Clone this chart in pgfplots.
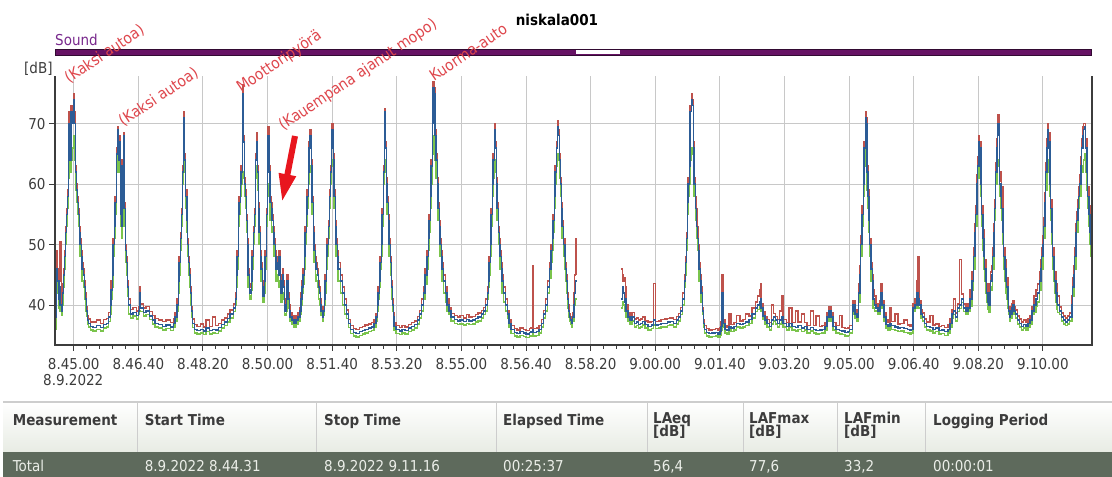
\documentclass[border=0pt]{standalone}
\usepackage{fontspec}
\setmainfont{DejaVu Sans Condensed}
\usepackage{pgfplots}
\usepackage{pgfplotstable}
\pgfplotsset{compat=1.18}
\usetikzlibrary{arrows.meta}
\definecolor{cred}{RGB}{190,82,76}
\definecolor{cblue}{RGB}{44,92,150}
\definecolor{cgreen}{RGB}{122,196,76}
\definecolor{axcol}{RGB}{60,60,60}
\definecolor{gridc}{RGB}{200,200,200}
\definecolor{barc}{RGB}{102,18,100}
\definecolor{soundc}{RGB}{120,40,140}
\definecolor{annc}{RGB}{222,70,76}
\definecolor{arrc}{RGB}{232,22,30}
\definecolor{rowc}{RGB}{94,106,92}
\definecolor{hdrbot}{RGB}{232,236,228}
\definecolor{hdrtxt}{RGB}{60,60,60}
\definecolor{sepc}{RGB}{205,205,205}

\pgfplotstableread{
t max eq min
-29 40 38 36
-27 49 46 44
-25 46 44 42
-23 42.5 41 39.5
-22 44 43 41
-21 50.5 40 39
-19 40 39 38.3
-17 43.5 42 40
-16 46 45 43
-14 49 48 46
-13 53 52 50
-11 56 55 53
-10 59 58 56
-8 66 64 61
-7 72 70 64
-5 66 64 62
-4 73 72 64
-2 72 70 66
0 75 74 68
1 72 70 64
3 63 62 59
4 60 59 57
6 58 57 55
7 56 55 53
9 53 52 50
10 51 50 48
12 49 48 46
13 47 46 44
15 46 45 43
17 44 43 41
18 42 41 39
20 39.8 39 38.2
21 38.2 37.5 36.8
23 37.7 37 36.4
26 37.2 36.5 35.9
30 37.2 36.3 35.7
35 37.5 36.6 36
41 37 36.3 35.7
46 37.6 36.8 36.2
51 37.8 37 36.4
54 38.8 38 37.3
57 41 40 38.5
58 44 42.5 41
60 46 45 43
61 51 50 48
63 54 53 51
64 58 57 55
66 66 65 62
68 69.5 69 65
69 65 64 62
71 68 67 64
72 56 55 53
74 54 53 51
75 64 63 60
77 68.5 68 63
78 57 56 53
80 50 49 47
82 48 47 45
83 44 43 41.5
85 41 40 38.5
88 39.3 38.5 37.9
92 39.6 38.8 38.2
97 39 38.3 37.7
100 39.7 39 38.4
102 43 42 39
103 40.2 39.5 38.9
108 39.5 38.8 38.2
112 39.8 39 38.4
117 38.9 38.2 37.6
122 38.3 37.5 36.9
126 37.8 37 36.4
131 37.5 36.8 36.2
137 37.3 36.5 35.9
143 37.5 36.7 36.1
150 37.1 36.4 35.8
154 37.8 37 36.4
157 38.8 38 37.3
160 41 40 39
162 45 44 42
163 48 47 45
165 52 51 49
167 56 55 53
168 63 62 60
170 72 71 66
171 65 64 62
173 59 58 56
175 55 54 52
176 51 50 48
178 48 47 45
179 46 45 43
181 43 42 40
182 39.8 39 38
184 37.7 37 36.3
187 36.8 36 35.4
191 36.5 35.8 35.2
196 36.9 36 35.4
201 36.4 35.7 35.1
205 37.5 36.2 35.6
210 36.5 35.8 35.2
215 38 36 35.4
219 36.6 35.9 35.3
224 37 36.3 35.7
229 37.5 36.8 36.2
233 37.9 37.2 36.6
238 38.5 37.8 37.2
242 39.2 38.5 37.9
247 40.2 39.5 38.9
250 42 41 40
252 46 45 43
253 49 48 46
255 56 55 53
256 58 57 55
258 61 60 58
259 63 62 60
261 76.5 75 62
263 68 67 61
264 61 60 58
266 59 58 56
267 55 54 52
269 51 50 48
270 46 45 43
272 43.5 42.5 41.5
273 43 42 41
275 45 44 42.5
276 49 48 46
278 53 52 50
280 56 55 53
281 65 64 61
283 68.5 67 63
284 63 62 59
286 57 56 54
287 53 52 50
289 49 48 46
290 47 46 44
292 44 43 41.5
293 42.5 41.5 40.5
295 45 44 42
296 49 48 46
298 56 55 53
300 63 62 58
301 69.5 68 60
303 63 62 57
304 58 57 54
306 57 56 53
307 55 54 52
309 53 52 50
310 51 50 48
312 49 48 46
313 47 46 44
315 48 47 45
317 46 45 43
318 49 48 44
320 45 44 42
321 43 42 40.5
323 46 45 42
324 44 43 41
326 41 40 38.5
327 39.7 39 38.3
329 42 41 39
330 45 44 41
332 42 41 39.5
334 40 39 38
335 38.7 38 37.4
338 38.2 37.5 36.9
341 37.7 37 36.4
344 38.2 37.5 36.9
347 38.7 38 37.4
350 39.6 39 38.4
352 42 41 40
353 44 43 42
355 46 45 43.5
357 49 48 46
358 53 52 50
360 56 55 53
361 59 58 56
363 63 62 60
364 67 66 62
366 69 68 63
368 64 63 60
369 58 57 55
371 53 52 50
372 50 49 47
374 48 47 45
375 47 46 44
377 46 45 43
379 44 43 41
380 43 42 40
382 41 40 39
383 39.7 39 38.3
385 38.7 38 37.3
386 39.7 39 38.3
388 42 41 40
389 45 44 42
391 49 48 46
392 51 50 48
394 54 53 51
396 59 58 56
397 63 62 60
399 67 66 63
400 70 69 64
402 65 64 61
403 59 58 56
405 54 53 51
406 51 50 48
408 49 48 46
409 47 46 44
413 45 44 42
416 43 42 40
419 41 40 38.5
422 39.2 38.5 37.8
425 37.6 37 36.3
428 36.6 36 35.3
433 36.1 35.5 34.9
437 36 35.3 34.7
442 36.3 35.6 35
447 36.5 35.8 35.2
451 36.7 36 35.4
456 36.9 36.2 35.6
461 37.1 36.4 35.8
465 37.6 37 36.4
468 38.6 38 37.4
470 41 40 39
471 43 42 41
473 45 44 43
474 48 47 46
476 51 50 48
477 56 55 53
479 63 62 60
481 72.5 72 64
482 67 66 62
484 61 60 58
485 58 57 55
487 55 54 52
488 51 50 48
490 48 47 45
492 44 43 41
493 41 40 39
495 38.7 38 37.3
496 37.1 36.5 35.8
499 36.6 36 35.3
504 36.3 35.7 35.1
508 36.6 36 35.4
513 36.4 35.8 35.2
518 36.8 36.2 35.6
523 37.1 36.5 35.9
527 37.4 36.8 36.2
532 38.1 37.5 36.9
535 39.1 38.5 37.9
538 41 40 39
541 43 42 41
544 46 45 43.5
547 49 48 46
549 52 51 49
550 55 54 52
552 59 58 56
553 64 63 60
555 71 70 65
556 77 76 68
558 76 75 67
559 69 68 64
561 65 64 61
563 61 60 58
564 57 56 54
566 54 53 51
567 51 50 48
569 49 48 46
570 47 46 44
572 45 44 42
575 43 42 40.5
578 41 40 39
581 39.6 39 38.4
584 38.6 38 37.4
589 38.3 37.6 37
594 38 37.4 36.8
598 38.3 37.5 36.9
603 37.9 37.3 36.7
608 38.4 37.6 37
612 38 37.4 36.8
617 38.1 37.5 36.9
622 38.4 37.8 37.2
626 38.7 38 37.4
631 39.1 38.5 37.9
634 39.6 39 38.4
637 41 40 39
640 43 42 41
642 45 44 43
643 48 47 45
645 51 50 48
646 56 55 53
648 61 60 58
649 65 64 61
651 70 69 64
652 67 66 62
654 61 60 58
655 57 56 54
657 53 52 50
659 51 50 48
660 49 48 46
662 47 46 44
663 45 44 42
665 43 42 40.5
668 41 40 39
671 39.1 38.5 37.9
674 37.6 37 36.4
677 36.6 36 35.3
682 36.1 35.5 34.9
686 35.9 35.3 34.7
691 36.2 35.6 35
696 36 35.4 34.8
700 35.8 35.2 34.6
705 36.1 35.5 34.9
708 36.2 35.6 35
710 46.5 36 35.4
711 36.1 35.5 34.9
716 36.2 35.6 35
720 36.6 36 35.4
724 37.6 37 36.4
727 39.1 38.5 37.9
730 41 40 39
733 44 43 42
736 47 46 44.5
739 50 49 47
741 52 51 49
742 55 54 52
744 59 58 56
745 63 62 60
747 67 66 63
749 70.5 69.5 65
750 69 68 64
752 65 64 61
753 61 60 58
755 57 56 54
756 54 53 51
758 51 50 48
760 49 48 46
761 47 46 44
763 45 44 42
764 42 41 39.5
766 40 39 38
767 38.6 38 37.4
769 38.1 37.5 36.9
770 37.6 37 36.4
772 38.8 38 37.4
774 42 40 38.5
775 45 42 40
777 51 44 41
778 45 44 41
}\dataA

\pgfplotstableread{
t max eq min
847 46 41 39.5
849 45 43 40.5
850 44 42 40
852 44.5 40.5 39
854 43 41 39
855 40 39 38
858 38.8 38 37.4
861 38.3 37.5 36.9
864 38.8 38 37.4
868 37.7 37 36.4
871 37.9 37.2 36.6
874 37.5 36.8 36.2
877 37.7 37 36.4
880 38 37.3 36.7
884 37.4 36.8 36.2
889 37.2 36.5 35.9
894 37.3 36.7 36.1
897 43.6 37.5 36.7
900 37.3 36.7 36.1
905 37.4 36.8 36.2
909 37.6 37 36.4
914 37.7 37 36.4
919 37.8 37.2 36.6
923 37.9 37.3 36.7
928 37.6 37 36.4
933 38.1 37.5 36.9
936 38.6 38 37.4
939 39.6 39 38.4
942 42 41 40
945 45 44 43
947 48 47 45
948 52 51 49
950 58 57 55
951 61 60 58
953 64 63 60
954 73 72 64
956 75 74 66
957 74 73 65
959 67 66 62
960 61 60 58
962 58 56 54
964 56 53 51
965 53 51 49
967 50 49 47
968 47 46 44
970 45 44 42
971 43 42 40.5
973 39.6 39 38.4
975 37.6 37 36.4
976 36.6 36 35.4
979 36.1 35.5 34.9
983 35.9 35.3 34.7
988 36 35.4 34.8
993 36.1 35.5 34.9
997 35.8 35.2 34.6
1000 36.2 35.6 35
1002 37.2 36.5 35.9
1003 45 42 38
1005 37.6 37 36.4
1008 36.6 36 35.4
1011 36.4 35.8 35.2
1014 38.5 36.5 35.9
1017 36.8 36.2 35.6
1022 37.1 36.5 35.9
1026 38.3 37 36.4
1031 37.4 36.8 36.2
1036 37.6 37 36.4
1040 38.5 37.2 36.6
1045 38.2 37.6 37
1050 39.5 38.5 37.9
1055 40.5 39.5 38.9
1058 41.5 40 39.3
1061 42.5 40.5 39.8
1063 43.5 41 40.2
1064 40.3 39.5 38.9
1067 38.9 38.2 37.6
1070 38.1 37.5 36.9
1073 37.6 37 36.4
1077 37.1 36.5 35.9
1080 40 37.5 36.9
1083 38.6 38 37.4
1086 38.1 37.5 36.9
1089 37.6 37 36.4
1092 39 37.5 36.9
1095 41.6 38 37.3
1098 37.6 37 36.4
1103 37.1 36.5 35.9
1107 39.5 37 36.4
1112 37.1 36.5 35.9
1117 39 36.3 35.7
1121 37.2 36.6 36
1126 38.5 36.2 35.6
1131 37.1 36.5 35.9
1135 36.6 36 35.4
1140 39 36.3 35.7
1145 36.6 36 35.4
1149 38.2 35.8 35.2
1154 36.5 35.9 35.3
1158 36.6 36 35.4
1163 37.1 36.5 35.9
1166 38.7 38 37.4
1169 39.7 39 38.4
1172 38.7 38 37.4
1175 37.1 36.5 35.9
1180 36.6 36 35.4
1185 38.3 35.8 35.2
1189 36.3 35.7 35.1
1194 36.1 35.5 34.9
1198 36.2 35.6 35
1201 36.6 36 35.4
1205 39.7 39 38.4
1206 40.7 40 39.4
1209 39.2 38.5 37.9
1212 38.7 38 37.4
1215 43.5 42 40.5
1217 46.5 45 43
1218 51.5 50 48
1220 56.5 55 53
1222 61.5 60 58
1223 67 66 63
1225 72 71 66
1226 71 70 65
1228 63 62 59
1229 59 58 56
1231 55 54 52
1232 51 50 48
1234 47 46 44
1236 45 44 42
1237 42.5 41 39.5
1239 41.5 40 39
1242 40.2 39.5 38.9
1245 39.7 39 38.4
1248 40.8 40 39.4
1249 43.5 42 40
1251 40.8 40 39.4
1254 38.7 38 37.4
1257 37.5 36.8 36.2
1260 37.2 36.5 35.9
1263 39.5 37 36.4
1266 37.3 36.6 36
1271 38.5 36.4 35.8
1276 36.9 36.2 35.6
1280 37 36.3 35.7
1285 37.5 36.1 35.5
1290 36.7 36 35.4
1294 36.5 35.8 35.2
1297 36.7 36 35.4
1299 40.3 39.5 38.9
1302 41 40 39.4
1305 44 42 40
1307 48 41 39.5
1308 40.8 40 39.4
1311 39.2 38.5 37.9
1314 38.7 38 37.4
1317 37.7 37 36.4
1320 37.2 36.5 35.9
1325 38.3 36.3 35.7
1330 36.7 36 35.4
1334 36.9 36.2 35.6
1339 36.5 35.8 35.2
1343 36.6 35.9 35.3
1348 36.3 35.6 35
1353 36.7 36 35.4
1356 37.7 37 36.4
1359 39.2 38.5 37.9
1362 41 39 38.4
1365 38.7 38 37.4
1368 40.2 39.5 38.9
1371 47.5 40 39.4
1374 41.8 41 40.4
1377 40.2 39.5 38.9
1381 39.7 39 38.4
1384 40.2 39.5 38.9
1387 42.5 41 39.8
1390 45.5 44 42.5
1393 49.5 48 46
1395 53.5 52 50
1396 56.5 55 53
1398 61.5 60 58
1399 64.5 63 61
1401 68 67 63
1402 67 66 62
1404 61.5 60 58
1405 56.5 55 53
1407 52.5 51 49
1409 49.5 48 46
1410 47.5 46 44
1412 45.5 44 42
1413 43.5 42 40.5
1415 42 40.5 39.3
1416 41.5 40 38.8
1418 43.5 42 40.5
1419 45.5 44 42.5
1421 46.5 45 43
1422 49.5 48 46
1424 53.5 52 50
1425 57.5 56 54
1427 63.5 62 60
1429 67.5 66 63
1430 71.5 70 64
1432 69.5 68 63
1433 62 60 58
1435 60.5 58 56
1436 59.5 56 54
1438 53.5 52 50
1439 49.5 48 46
1441 47.5 46 44
1443 45.5 44 42
1444 44.5 43 41
1446 42.5 41 39.5
1447 39.7 39 38.4
1449 38.7 38 37.4
1450 39.2 38.5 37.9
1452 40.2 39.5 38.9
1453 40.7 40 39.4
1455 39.7 39 38.4
1458 39.2 38.5 37.9
1461 38.2 37.5 36.9
1464 37.7 37 36.4
1467 37.2 36.5 35.9
1470 37.5 36.8 36.2
1474 37.2 36.5 35.9
1477 37.7 37 36.4
1480 38.2 37.5 36.9
1483 39.7 39 38.4
1486 41.5 40 38.8
1489 42.5 41 39.8
1492 43.5 42 40.5
1495 45.5 44 42.5
1497 47.5 46 44
1498 49.5 48 46
1500 51.5 50 48
1501 54.5 53 51
1503 58.5 57 55
1504 63.5 62 59
1506 67.5 66 62
1508 70 69 64
1509 68.5 67 63
1511 61.5 60 58
1512 57.5 56 54
1514 53.5 52 50
1515 49.5 48 46
1517 47.5 46 44
1518 45.5 44 42
1520 43.5 42 40.5
1522 42 40.5 39.3
1523 41.5 40 38.8
1526 39.7 39 38.4
1529 38.7 38 37.4
1532 38.2 37.5 36.9
1535 37.9 37.2 36.6
1538 38.2 37.5 36.9
1541 38.7 38 37.4
1545 41.5 40 38.8
1546 44.5 43 41.5
1548 46.5 45 43
1549 49.5 48 46
1551 53.5 52 50
1552 55.5 54 52
1554 57.5 56 54
1555 59.5 58 56
1557 61.5 60 58
1559 64.5 63 61
1560 67.5 66 62
1562 69.5 68 63
1563 70 69 64
1565 70 69.5 65
1566 67.5 66 62
1568 63.5 62 59
1569 59.5 58 56
1571 56.5 55 53
1573 53.5 52 50
1574 51.5 50 48
1576 50.5 49 47
}\dataB

\begin{document}
\begin{tikzpicture}
\useasboundingbox (0,0) rectangle (1112bp,477bp);
\begin{axis}[
  name=ax,
  at={(55bp,132bp)}, anchor=south west,
  scale only axis,
  width=1037bp, height=268.5bp,
  xmin=-29, xmax=1576,
  ymin=33.4, ymax=77.8,
  axis line style={draw=none},
  xtick={0,100,...,1500},
  xticklabels={8.45.00,8.46.40,8.48.20,8.50.00,8.51.40,8.53.20,8.55.00,8.56.40,8.58.20,9.00.00,9.01.40,9.03.20,9.05.00,9.06.40,9.08.20,9.10.00},
  minor x tick num=4,
  ytick={40,50,60,70},
  yticklabels={40,50,60,70},
  xtick pos=left, ytick pos=left,
  tick align=outside,
  major tick length=6bp, minor tick length=4bp,
  every tick/.style={draw=axcol, line width=1bp},
  grid=major,
  major grid style={draw=gridc, line width=1bp},
  ticklabel style={font=\fontsize{15bp}{18bp}\selectfont, text=hdrtxt},
  xticklabel style={yshift=-4bp},
  clip=true,
]
\addplot[const plot, cred, line width=1.45bp] table[x=t,y=max] {\dataA};
\addplot[const plot, cgreen, line width=1.45bp] table[x=t,y=min] {\dataA};
\addplot[const plot, cblue, line width=1.45bp] table[x=t,y=eq] {\dataA};
\addplot[const plot, cred, line width=1.45bp] table[x=t,y=max] {\dataB};
\addplot[const plot, cgreen, line width=1.45bp] table[x=t,y=min] {\dataB};
\addplot[const plot, cblue, line width=1.45bp] table[x=t,y=eq] {\dataB};
\end{axis}
% axis frame: left, bottom, right
\draw[axcol, line width=1.3bp] (ax.north west) -- (ax.south west) -- (ax.south east) -- (ax.north east);
\begin{scope}[x=1bp,y=1bp]
% date
\node[anchor=base west, inner sep=0pt, text=hdrtxt, font=\fontsize{15bp}{18bp}\selectfont] at (43,92) {8.9.2022};
% y unit
\node[anchor=base west, inner sep=0pt, text=hdrtxt, font=\fontsize{15bp}{18bp}\selectfont] at (24,403) {[dB]};
% title
\node[anchor=base, inner sep=0pt, font=\fontsize{15bp}{18bp}\selectfont\bfseries] at (557,451) {niskala001};
% Sound bar
\node[anchor=base west, inner sep=0pt, text=soundc, font=\fontsize{15bp}{18bp}\selectfont] at (55,431.5) {Sound};
\filldraw[fill=barc, draw={rgb,255:red,50;green,10;blue,50}, line width=0.8bp] (55,421.3) rectangle (1091,428);
\fill[white] (576,422.6) rectangle (620,426.7);
% annotations
\begin{scope}[every node/.style={anchor=base west, inner sep=0pt, rotate=34, text=annc, font=\fontsize{15.5bp}{18bp}\selectfont}]
\node at (69,393) {(Kaksi autoa)};
\node at (123,350) {(Kaksi autoa)};
\node at (241,384) {Moottoripyörä};
\node at (283,346) {(Kauempana ajanut mopo)};
\node at (434,395) {Kuorma-auto};
\end{scope}
% red arrow
\draw[arrc, line width=6bp, -{Triangle[width=16bp,length=28bp]}] (295,341) -- (282,275);
% table header
\shade[top color=white, bottom color=hdrbot] (3,25.3) rectangle (1112,75);
\draw[sepc, line width=1.2bp] (3,75) -- (1112,75);
\foreach \xx in {137,316,496,647,743,837,925} {\draw[sepc, line width=1bp] (\xx,25.3) -- (\xx,75);}
\fill[rowc] (3,0) rectangle (1112,25.3);
\begin{scope}[every node/.style={anchor=base west, inner sep=0pt, text=hdrtxt, font=\fontsize{15bp}{18bp}\selectfont\bfseries}]
\node at (12.7,52) {Measurement};
\node at (144.6,52) {Start Time};
\node at (324,52) {Stop Time};
\node at (503,52) {Elapsed Time};
\node at (653,54) {LAeq};
\node at (653,41) {[dB]};
\node at (749,54) {LAFmax};
\node at (749,41) {[dB]};
\node at (844,54) {LAFmin};
\node at (844,41) {[dB]};
\node at (933,52) {Logging Period};
\end{scope}
\begin{scope}[every node/.style={anchor=base west, inner sep=0pt, text={rgb,255:red,235;green,238;blue,232}, font=\fontsize{15bp}{18bp}\selectfont}]
\node at (12.7,5.5) {Total};
\node at (144.6,5.5) {8.9.2022 8.44.31};
\node at (324,5.5) {8.9.2022 9.11.16};
\node at (503,5.5) {00:25:37};
\node at (653,5.5) {56,4};
\node at (749,5.5) {77,6};
\node at (844,5.5) {33,2};
\node at (933,5.5) {00:00:01};
\end{scope}
\end{scope}
\end{tikzpicture}
\end{document}
